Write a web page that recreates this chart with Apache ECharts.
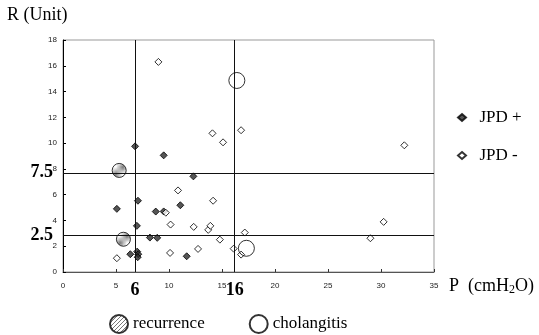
<!DOCTYPE html>
<html><head><meta charset="utf-8">
<script src="https://cdn.jsdelivr.net/npm/echarts@6/dist/echarts.min.js"></script>
<style>html,body{margin:0;padding:0;background:#fff}#c{width:539px;height:335px}</style>
</head><body><div id="c"></div>
<script>
// JPD + (dark diamonds): [P (cmH2O), R (Unit)]
const jpdPlus = [
  [6.8, 9.75], [9.5, 9.05], [12.3, 7.42], [7.07, 5.53], [5.08, 4.9],
  [8.75, 4.69], [9.5, 4.7], [11.07, 5.18], [6.97, 3.58], [8.2, 2.67],
  [8.89, 2.65], [7.0, 1.58], [7.1, 1.38], [7.05, 1.15], [6.35, 1.38],
  [11.67, 1.22]
];
// JPD - (open diamonds)
const jpdMinus = [
  [9.0, 16.3], [14.1, 10.76], [15.1, 10.06], [16.8, 11.0], [32.2, 9.83],
  [10.85, 6.33], [14.16, 5.53], [9.7, 4.6], [10.15, 3.68], [12.33, 3.5],
  [13.7, 3.27], [13.9, 3.58], [17.15, 3.06], [14.8, 2.51], [12.74, 1.79],
  [10.1, 1.48], [16.1, 1.81], [16.8, 1.35], [5.08, 1.07], [30.25, 3.89],
  [29.0, 2.62]
];
const recurrence = [[5.3, 7.88], [5.7, 2.54]];
const cholangitis = [[16.4, 14.86], [17.3, 1.84]];
// Threshold lines as drawn in the figure, with their printed labels
const thresholdP = [6.8, 16.2];
const thresholdPLabels = ['6', '16'];
const thresholdR = [7.7, 2.86];
const thresholdRLabels = ['7.5', '2.5'];
const xAxisRange = [0, 35, 5];
const yAxisRange = [0, 18, 2];

// hatch pattern for the recurrence circles
const pc = document.createElement('canvas');
pc.width = 4; pc.height = 4;
const g = pc.getContext('2d');
g.fillStyle = '#fff'; g.fillRect(0, 0, 4, 4);
g.strokeStyle = '#555'; g.lineWidth = 1;
g.beginPath(); g.moveTo(0, 4); g.lineTo(4, 0); g.stroke();
g.beginPath(); g.moveTo(-1, 1); g.lineTo(1, -1); g.stroke();
g.beginPath(); g.moveTo(3, 5); g.lineTo(5, 3); g.stroke();
const hatch = { image: pc, repeat: 'repeat' };

const serif = 'Liberation Serif';
const chart = echarts.init(document.getElementById('c'), null, { renderer: 'canvas' });
chart.setOption({
  animation: false,
  backgroundColor: '#fff',
  grid: { left: 63, right: 105, top: 40, bottom: 63, show: true, borderColor: '#999', borderWidth: 1 },
  xAxis: {
    type: 'value', min: xAxisRange[0], max: xAxisRange[1], interval: xAxisRange[2],
    axisLine: { show: true, lineStyle: { color: '#555' } },
    axisTick: { show: true, inside: true, length: 3, lineStyle: { color: '#333' } },
    axisLabel: { fontSize: 8, fontFamily: 'Liberation Sans', color: '#222', margin: 10 },
    splitLine: { show: false }
  },
  yAxis: {
    type: 'value', min: yAxisRange[0], max: yAxisRange[1], interval: yAxisRange[2],
    axisLine: { show: true, lineStyle: { color: '#000' } },
    axisTick: { show: true, inside: true, length: 3, lineStyle: { color: '#000' } },
    axisLabel: { fontSize: 8, fontFamily: 'Liberation Sans', color: '#222', margin: 6 },
    splitLine: { show: false }
  },
  legend: [
    {
      orient: 'vertical', left: 452, top: 104, itemWidth: 8, itemHeight: 7, itemGap: 21,
      data: [{ name: 'JPD +', icon: 'diamond' }, { name: 'JPD -', icon: 'diamond' }],
      formatter: '  {name}',
      textStyle: { fontFamily: serif, fontSize: 17, color: '#000' }
    },
    {
      orient: 'horizontal', left: 104, top: 309, itemWidth: 18, itemHeight: 18, itemGap: 44,
      data: ['recurrence', 'cholangitis'],
      textStyle: { fontFamily: serif, fontSize: 17, color: '#000' }
    }
  ],
  graphic: [
    { type: 'text', left: 7, top: 6, style: { text: 'R (Unit)', font: '18px "Liberation Serif"', fill: '#000' } },
    { type: 'text', left: 449, top: 277, style: {
      text: 'P  (cmH{s|2}O)', font: '18px "Liberation Serif"', fill: '#000',
      rich: { s: { fontSize: 12, fontFamily: serif, padding: [8, 0, 0, 0] } }
    } }
  ],
  series: [
    {
      name: 'JPD +', type: 'scatter', symbol: 'diamond', symbolSize: 7, z: 3,
      itemStyle: { color: '#2a2a2a', borderColor: '#000', borderWidth: 1 },
      data: jpdPlus
    },
    {
      name: 'JPD -', type: 'scatter', symbol: 'diamond', symbolSize: 7, z: 3,
      itemStyle: { color: '#fff', borderColor: '#000', borderWidth: 1 },
      data: jpdMinus,
      markLine: {
        silent: true, symbol: 'none', animation: false,
        lineStyle: { color: '#111', width: 1, type: 'solid' },
        label: { position: 'start', fontFamily: serif, fontWeight: 'bold', fontSize: 18, color: '#000' },
        data: thresholdP.map((v, i) => ({ xAxis: v, label: { formatter: thresholdPLabels[i], distance: 9 } }))
          .concat(thresholdR.map((v, i) => ({ yAxis: v, label: { formatter: thresholdRLabels[i], distance: 10 } })))
      }
    },
    {
      name: 'recurrence', type: 'scatter', symbol: 'circle', symbolSize: 14, z: 4,
      itemStyle: { color: hatch, borderColor: '#000', borderWidth: 1 },
      data: recurrence
    },
    {
      name: 'cholangitis', type: 'scatter', symbol: 'circle', symbolSize: 16, z: 4,
      itemStyle: { color: 'rgba(255,255,255,0)', borderColor: '#000', borderWidth: 1 },
      data: cholangitis
    }
  ]
});
</script></body></html>
